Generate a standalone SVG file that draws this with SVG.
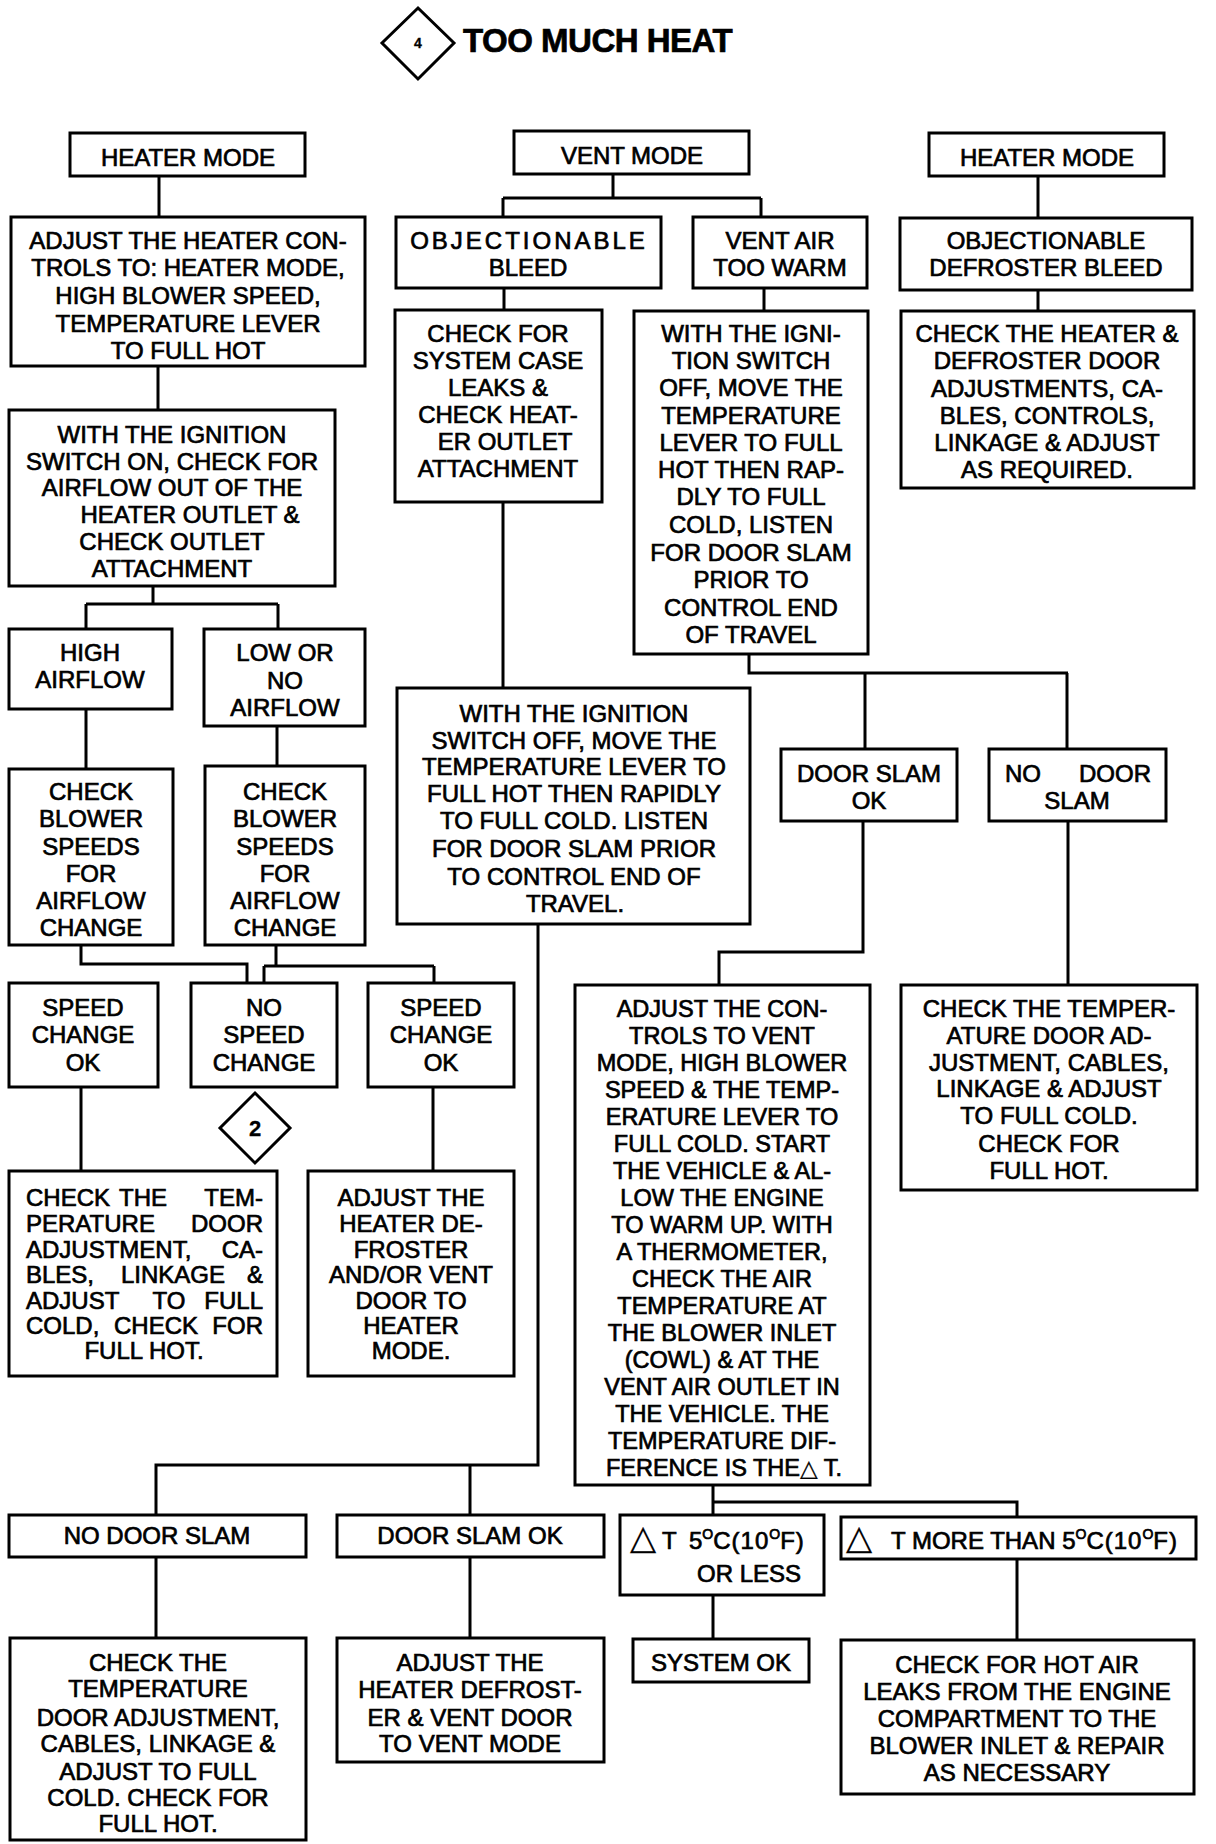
<svg xmlns="http://www.w3.org/2000/svg" width="1216" height="1844" viewBox="0 0 1216 1844">
<style>
.b{fill:#fff;stroke:#000;stroke-width:3}
.c{fill:none;stroke:#000;stroke-width:3}
text{font-family:"Liberation Sans",Arial,sans-serif;font-size:24px;fill:#000;stroke:#000;stroke-width:0.7}
.m{text-anchor:middle}
.e{text-anchor:end}
.tri{font-family:"DejaVu Sans",sans-serif;stroke-width:0.2}
.sup{font-size:14px}
.s{font-size:23.5px}
</style>
<rect width="1216" height="1844" fill="#fff"/>
<g id="title">
<polygon class="b" points="418,8 454,43 418,79 382,43"/>
<text x="418" y="48" class="m" style="font-size:14px;font-weight:bold;stroke-width:0.3">4</text>
<text x="463" y="52" style="font-size:33px;font-weight:bold;letter-spacing:-0.5px">TOO MUCH HEAT</text>
</g>
<g id="connectors">
<path class="c" d="M159,176V217 M158,366V410 M153,586V604 M86,604H278 M86,604V629 M278,604V629"/>
<path class="c" d="M86,709V769 M277,726V766 M81,945V964H247V983 M276,945V966 M264,966H434 M264,966V983 M434,966V983"/>
<path class="c" d="M81,1087V1171 M433,1087V1171"/>
<path class="c" d="M613,174V198 M503,198H761 M503,198V217 M761,198V217 M504,288V310 M764,288V311 M1038,176V218 M1038,290V311"/>
<path class="c" d="M503,502V688 M749,654V673H1068 M865,673V749 M1067,673V749 M863,821V952H719V985 M1068,821V985"/>
<path class="c" d="M538,924V1465H156V1515 M470,1465V1515 M156,1557V1638 M470,1557V1638"/>
<path class="c" d="M713,1485V1502H1017V1517 M713,1502V1515 M713,1595V1639 M1017,1559V1640"/>
</g>
<g id="n1"><rect class="b" x="70" y="133" width="235" height="43"/><text class="m" x="188" y="166">HEATER MODE</text></g>
<g id="n2"><rect class="b" x="514" y="131" width="235" height="43"/><text class="m" x="632" y="164">VENT MODE</text></g>
<g id="n3"><rect class="b" x="929" y="133" width="235" height="43"/><text class="m" x="1047" y="166">HEATER MODE</text></g>
<g id="n4"><rect class="b" x="11" y="217" width="354" height="149"/>
<text class="m" x="188" y="248.5">ADJUST THE HEATER CON-</text>
<text class="m" x="188" y="275.5">TROLS TO: HEATER MODE,</text>
<text class="m" x="188" y="303.5">HIGH BLOWER SPEED,</text>
<text class="m" x="188" y="331.5">TEMPERATURE LEVER</text>
<text class="m" x="188" y="358.5">TO FULL HOT</text></g>
<g id="n5"><rect class="b" x="396" y="217" width="265" height="71"/>
<text class="m" x="529" y="248.5" style="letter-spacing:3px">OBJECTIONABLE</text>
<text class="m" x="528" y="275.5">BLEED</text></g>
<g id="n6"><rect class="b" x="693" y="217" width="174" height="71"/>
<text class="m" x="780" y="248.5">VENT AIR</text>
<text class="m" x="780" y="275.5">TOO WARM</text></g>
<g id="n7"><rect class="b" x="900" y="218" width="292" height="72"/>
<text class="m" x="1046" y="248.5">OBJECTIONABLE</text>
<text class="m" x="1046" y="275.5">DEFROSTER BLEED</text></g>
<g id="n8"><rect class="b" x="395" y="310" width="207" height="192"/>
<text class="m" x="498" y="342">CHECK FOR</text>
<text class="m" x="498" y="368.5">SYSTEM CASE</text>
<text class="m" x="498" y="395.5">LEAKS &amp;</text>
<text class="m" x="498" y="422.5">CHECK HEAT-</text>
<text class="m" x="505" y="450">ER OUTLET</text>
<text class="m" x="498" y="476.5">ATTACHMENT</text></g>
<g id="n9"><rect class="b" x="634" y="311" width="234" height="343"/>
<text class="m" x="751" y="342">WITH THE IGNI-</text>
<text class="m" x="751" y="368.5">TION SWITCH</text>
<text class="m" x="751" y="395.5">OFF, MOVE THE</text>
<text class="m" x="751" y="423.5">TEMPERATURE</text>
<text class="m" x="751" y="450.5">LEVER TO FULL</text>
<text class="m" x="751" y="478">HOT THEN RAP-</text>
<text class="m" x="751" y="504.5">DLY TO FULL</text>
<text class="m" x="751" y="533">COLD, LISTEN</text>
<text class="m" x="751" y="560.5">FOR DOOR SLAM</text>
<text class="m" x="751" y="587.5">PRIOR TO</text>
<text class="m" x="751" y="615.5">CONTROL END</text>
<text class="m" x="751" y="642.5">OF TRAVEL</text></g>
<g id="n10"><rect class="b" x="901" y="311" width="293" height="177"/>
<text class="m" x="1047" y="342">CHECK THE HEATER &amp;</text>
<text class="m" x="1047" y="368.5">DEFROSTER DOOR</text>
<text class="m" x="1047" y="396.5">ADJUSTMENTS, CA-</text>
<text class="m" x="1047" y="423.5">BLES, CONTROLS,</text>
<text class="m" x="1047" y="450.5">LINKAGE &amp; ADJUST</text>
<text class="m" x="1047" y="478">AS REQUIRED.</text></g>
<g id="n11"><rect class="b" x="9" y="410" width="326" height="176"/>
<text class="m" x="172" y="442.5">WITH THE IGNITION</text>
<text class="m" x="172" y="469.5">SWITCH ON, CHECK FOR</text>
<text class="m" x="172" y="496">AIRFLOW OUT OF THE</text>
<text class="m" x="190" y="522.5">HEATER OUTLET &amp;</text>
<text class="m" x="172" y="549.5">CHECK OUTLET</text>
<text class="m" x="172" y="576.5">ATTACHMENT</text></g>
<g id="n12"><rect class="b" x="9" y="629" width="163" height="80"/>
<text class="m" x="90" y="660.5">HIGH</text>
<text class="m" x="90" y="687.5">AIRFLOW</text></g>
<g id="n13"><rect class="b" x="204" y="629" width="161" height="97"/>
<text class="m" x="285" y="660.5">LOW OR</text>
<text class="m" x="285" y="688.5">NO</text>
<text class="m" x="285" y="715.5">AIRFLOW</text></g>
<g id="n14"><rect class="b" x="9" y="769" width="164" height="176"/>
<text class="m" x="91" y="799.5">CHECK</text>
<text class="m" x="91" y="826.5">BLOWER</text>
<text class="m" x="91" y="854.5">SPEEDS</text>
<text class="m" x="91" y="881.5">FOR</text>
<text class="m" x="91" y="908.5">AIRFLOW</text>
<text class="m" x="91" y="935.5">CHANGE</text></g>
<g id="n15"><rect class="b" x="205" y="766" width="160" height="179"/>
<text class="m" x="285" y="799.5">CHECK</text>
<text class="m" x="285" y="826.5">BLOWER</text>
<text class="m" x="285" y="854.5">SPEEDS</text>
<text class="m" x="285" y="881.5">FOR</text>
<text class="m" x="285" y="908.5">AIRFLOW</text>
<text class="m" x="285" y="935.5">CHANGE</text></g>
<g id="n16"><rect class="b" x="397" y="688" width="353" height="236"/>
<text class="m" x="574" y="721.5">WITH THE IGNITION</text>
<text class="m" x="574" y="748.5">SWITCH OFF, MOVE THE</text>
<text class="m" x="574" y="775">TEMPERATURE LEVER TO</text>
<text class="m" x="574" y="801.5">FULL HOT THEN RAPIDLY</text>
<text class="m" x="574" y="828.5">TO FULL COLD. LISTEN</text>
<text class="m" x="574" y="856.5">FOR DOOR SLAM PRIOR</text>
<text class="m" x="574" y="884.5">TO CONTROL END OF</text>
<text class="m" x="575" y="911.5">TRAVEL.</text></g>
<g id="n17"><rect class="b" x="781" y="749" width="176" height="72"/>
<text class="m" x="869" y="781.5">DOOR SLAM</text>
<text class="m" x="869" y="808.5">OK</text></g>
<g id="n18"><rect class="b" x="989" y="749" width="177" height="72"/>
<text x="1005" y="781.5">NO</text>
<text class="e" x="1151" y="781.5">DOOR</text>
<text class="m" x="1077" y="808.5">SLAM</text></g>
<g id="n19"><rect class="b" x="9" y="983" width="149" height="104"/>
<text class="m" x="83" y="1015.5">SPEED</text>
<text class="m" x="83" y="1042.5">CHANGE</text>
<text class="m" x="83" y="1070.5">OK</text></g>
<g id="n20"><rect class="b" x="191" y="983" width="146" height="104"/>
<text class="m" x="264" y="1015.5">NO</text>
<text class="m" x="264" y="1042.5">SPEED</text>
<text class="m" x="264" y="1070.5">CHANGE</text></g>
<g id="n21"><rect class="b" x="368" y="983" width="146" height="104"/>
<text class="m" x="441" y="1015.5">SPEED</text>
<text class="m" x="441" y="1042.5">CHANGE</text>
<text class="m" x="441" y="1070.5">OK</text></g>
<g id="n22"><polygon class="b" points="255,1093 290,1128 255,1163 220,1128"/>
<text class="m" x="255" y="1136" style="font-size:22px;font-weight:bold;stroke-width:0.3">2</text></g>
<g id="n23"><rect class="b" x="9" y="1171" width="268" height="205"/>
<text y="1206"><tspan x="26">CHECK</tspan><tspan class="m" x="143">THE</tspan><tspan class="e" x="263">TEM-</tspan></text>
<text y="1232"><tspan x="26">PERATURE</tspan><tspan class="e" x="263">DOOR</tspan></text>
<text y="1257.5"><tspan x="26">ADJUSTMENT,</tspan><tspan class="e" x="263">CA-</tspan></text>
<text y="1283"><tspan x="26">BLES,</tspan><tspan class="m" x="173">LINKAGE</tspan><tspan class="e" x="263">&amp;</tspan></text>
<text y="1308.5"><tspan x="26">ADJUST</tspan><tspan class="m" x="169">TO</tspan><tspan class="e" x="263">FULL</tspan></text>
<text y="1334"><tspan x="26">COLD,</tspan><tspan class="m" x="156">CHECK</tspan><tspan class="e" x="263">FOR</tspan></text>
<text class="m" x="144" y="1358.5">FULL HOT.</text></g>
<g id="n24"><rect class="b" x="308" y="1171" width="206" height="205"/>
<text class="m" x="411" y="1206">ADJUST THE</text>
<text class="m" x="411" y="1232">HEATER DE-</text>
<text class="m" x="411" y="1257.5">FROSTER</text>
<text class="m" x="411" y="1283">AND/OR VENT</text>
<text class="m" x="411" y="1308.5">DOOR TO</text>
<text class="m" x="411" y="1334">HEATER</text>
<text class="m" x="411" y="1358.5">MODE.</text></g>
<g id="n25"><rect class="b" x="575" y="985" width="295" height="500"/>
<text class="m s" x="722" y="1016.5">ADJUST THE CON-</text>
<text class="m s" x="722" y="1043.5">TROLS TO VENT</text>
<text class="m s" x="722" y="1070.5">MODE, HIGH BLOWER</text>
<text class="m s" x="722" y="1097.5">SPEED &amp; THE TEMP-</text>
<text class="m s" x="722" y="1124.5">ERATURE LEVER TO</text>
<text class="m s" x="722" y="1151.5">FULL COLD. START</text>
<text class="m s" x="722" y="1178.5">THE VEHICLE &amp; AL-</text>
<text class="m s" x="722" y="1205.5">LOW THE ENGINE</text>
<text class="m s" x="722" y="1232.5">TO WARM UP. WITH</text>
<text class="m s" x="722" y="1259.5">A THERMOMETER,</text>
<text class="m s" x="722" y="1286.5">CHECK THE AIR</text>
<text class="m s" x="722" y="1313.5">TEMPERATURE AT</text>
<text class="m s" x="722" y="1340.5">THE BLOWER INLET</text>
<text class="m s" x="722" y="1367.5">(COWL) &amp; AT THE</text>
<text class="m s" x="722" y="1394.5">VENT AIR OUTLET IN</text>
<text class="m s" x="722" y="1421.5">THE VEHICLE. THE</text>
<text class="m s" x="722" y="1448.5">TEMPERATURE DIF-</text>
<text class="m s" x="724" y="1476">FERENCE IS THE<tspan class="tri" style="font-size:23px">△</tspan> T.</text></g>
<g id="n26"><rect class="b" x="901" y="985" width="296" height="205"/>
<text class="m" x="1049" y="1016.5">CHECK THE TEMPER-</text>
<text class="m" x="1049" y="1043.5">ATURE DOOR AD-</text>
<text class="m" x="1049" y="1070.5">JUSTMENT, CABLES,</text>
<text class="m" x="1049" y="1096.5">LINKAGE &amp; ADJUST</text>
<text class="m" x="1049" y="1123.5">TO FULL COLD.</text>
<text class="m" x="1049" y="1151.5">CHECK FOR</text>
<text class="m" x="1049" y="1178.5">FULL HOT.</text></g>
<g id="n27"><rect class="b" x="9" y="1515" width="297" height="42"/>
<text class="m" x="157" y="1543.5">NO DOOR SLAM</text></g>
<g id="n28"><rect class="b" x="337" y="1515" width="267" height="42"/>
<text class="m" x="470" y="1543.5">DOOR SLAM OK</text></g>
<g id="n29"><rect class="b" x="620" y="1515" width="204" height="80"/>
<text y="1548.5"><tspan x="630" class="tri" style="font-size:34px">△</tspan><tspan x="662">T</tspan><tspan x="689">5</tspan><tspan class="sup" dy="-10">O</tspan><tspan dy="10" style="letter-spacing:1px">C(10</tspan><tspan class="sup" dy="-10">O</tspan><tspan dy="10" style="letter-spacing:1px">F)</tspan></text>
<text class="m" x="749" y="1581.5">OR LESS</text></g>
<g id="n30"><rect class="b" x="841" y="1517" width="355" height="42"/>
<text y="1548.5"><tspan x="846" class="tri" style="font-size:34px">△</tspan><tspan x="891">T MORE THAN 5</tspan><tspan class="sup" dy="-10">O</tspan><tspan dy="10" style="letter-spacing:1px">C(10</tspan><tspan class="sup" dy="-10">O</tspan><tspan dy="10" style="letter-spacing:1px">F)</tspan></text></g>
<g id="n31"><rect class="b" x="633" y="1639" width="176" height="43"/>
<text class="m" x="721" y="1670.5">SYSTEM OK</text></g>
<g id="n32"><rect class="b" x="841" y="1640" width="353" height="154"/>
<text class="m" x="1017" y="1672.5">CHECK FOR HOT AIR</text>
<text class="m" x="1017" y="1699.5">LEAKS FROM THE ENGINE</text>
<text class="m" x="1017" y="1726.5">COMPARTMENT TO THE</text>
<text class="m" x="1017" y="1753.5">BLOWER INLET &amp; REPAIR</text>
<text class="m" x="1017" y="1780.5">AS NECESSARY</text></g>
<g id="n33"><rect class="b" x="10" y="1638" width="296" height="202"/>
<text class="m" x="158" y="1670.5">CHECK THE</text>
<text class="m" x="158" y="1696.5">TEMPERATURE</text>
<text class="m" x="158" y="1725.5">DOOR ADJUSTMENT,</text>
<text class="m" x="158" y="1751.5">CABLES, LINKAGE &amp;</text>
<text class="m" x="158" y="1779.5">ADJUST TO FULL</text>
<text class="m" x="158" y="1805.5">COLD. CHECK FOR</text>
<text class="m" x="158" y="1831.5">FULL HOT.</text></g>
<g id="n34"><rect class="b" x="337" y="1638" width="267" height="124"/>
<text class="m" x="470" y="1670.5">ADJUST THE</text>
<text class="m" x="470" y="1697.5">HEATER DEFROST-</text>
<text class="m" x="470" y="1725.5">ER &amp; VENT DOOR</text>
<text class="m" x="470" y="1751.5">TO VENT MODE</text></g>
</svg>
